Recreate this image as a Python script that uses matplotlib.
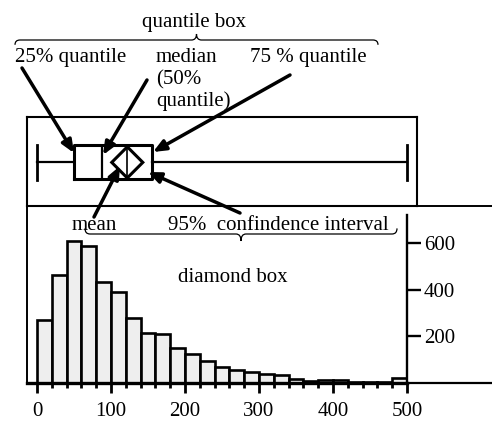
import matplotlib.pyplot as plt
from matplotlib.path import Path
from matplotlib.patches import PathPatch, Polygon
import numpy as np

plt.rcParams['font.family'] = ['Liberation Serif', 'DejaVu Serif']

# histogram counts, bins of width 20 from 0 to 500
bin_edges = np.arange(0, 520, 20)
counts = [272, 463, 609, 588, 434, 389, 280, 216, 209, 149, 123, 96, 70,
          56, 46, 37, 35, 17, 8, 12, 12, 5, 3, 3, 20]

# box plot summary
q1, median, q3 = 50, 88, 155
whis_lo, whis_hi = 0, 500
mean, ci_lo, ci_hi = 122, 101, 143

W, H = 492, 421
fig = plt.figure(figsize=(W / 100, H / 100), dpi=100)

def frac(x0, y0, x1, y1):
    # pixel box (top-left origin) -> figure fraction rect
    return [x0 / W, (H - y1) / H, (x1 - x0) / W, (y1 - y0) / H]

# --- histogram ---
ax = fig.add_axes(frac(27, 207, 407, 383))
ax.bar(bin_edges[:-1], counts, width=20, align='edge', color='#eeeeee',
       edgecolor='black', linewidth=1.9)
ax.set_xlim(-13.5, 500)
ax.set_ylim(0, 754)
ax.spines['top'].set_visible(False)
ax.spines['left'].set_linewidth(1.4)
ax.spines['bottom'].set_linewidth(2.4)
ax.spines['right'].set_linewidth(1.7)
ax.spines['right'].set_bounds(0, 720)
ax.yaxis.tick_right()
ax.set_yticks([200, 400, 600])
ax.set_xticks(range(0, 501, 100))
ax.set_xticks([x for x in bin_edges if x % 100], minor=True)
ax.tick_params(axis='y', direction='out', length=10, width=1.7, pad=2,
               labelsize=15)
ax.tick_params(axis='x', which='major', direction='out', length=7.5,
               width=2.0, pad=6, labelsize=15)
ax.tick_params(axis='x', which='minor', direction='out', length=3.5,
               width=2.0)

# --- outlier box plot ---
bx = fig.add_axes(frac(27, 117, 417, 206))
pos, half = 0.49, 0.19
stats = [dict(med=median, q1=q1, q3=q3, whislo=whis_lo, whishi=whis_hi,
              fliers=[])]
bx.bxp(stats, positions=[pos], widths=2 * half, orientation='horizontal',
       capwidths=0.4,
       boxprops=dict(color='black', linewidth=2.2),
       medianprops=dict(color='black', linewidth=1.6),
       whiskerprops=dict(color='black', linewidth=1.6),
       capprops=dict(color='black', linewidth=2.0))
dh = half - 0.015
bx.add_patch(Polygon([(ci_lo, pos), (mean, pos + dh), (ci_hi, pos),
                      (mean, pos - dh)], closed=True, fill=False,
                     edgecolor='black', linewidth=2.2))
bx.plot([mean, mean], [pos - dh, pos + dh], color='black', lw=1.2)
bx.set_xlim(-13.5, 513.5)
bx.set_ylim(0, 1)
bx.set_xticks([])
bx.set_yticks([])
for s in bx.spines.values():
    s.set_linewidth(1.5)

# --- labels and arrows, in pixel coordinates ---
ov = fig.add_axes([0, 0, 1, 1])
ov.set_xlim(0, W)
ov.set_ylim(H, 0)
ov.axis('off')
ov.patch.set_alpha(0)

ov.plot([417, W], [206, 206], color='black', lw=1.4)
ov.plot([407, W], [383, 383], color='black', lw=1.6)

def brace(x0, x1, y, tip, d=5):
    xm = (x0 + x1) / 2
    e = y - (tip - y) * 0.8
    verts = [(x0, e), (x0, y), (x0 + d, y),
             (xm - d, y), (xm, y), (xm, tip),
             (xm, y), (xm + d, y),
             (x1 - d, y), (x1, y), (x1, e)]
    codes = [Path.MOVETO, Path.CURVE3, Path.CURVE3,
             Path.LINETO, Path.CURVE3, Path.CURVE3,
             Path.CURVE3, Path.CURVE3,
             Path.LINETO, Path.CURVE3, Path.CURVE3]
    ov.add_patch(PathPatch(Path(verts, codes), fill=False,
                           edgecolor='black', lw=0.9))

fs = 15
ov.text(194, 27, 'quantile box', ha='center', va='baseline', fontsize=fs)
brace(15, 378, 40, 34)
ov.text(15, 62, '25% quantile', va='baseline', fontsize=fs)
ov.text(156, 62, 'median', va='baseline', fontsize=fs)
ov.text(156, 84, '(50%', va='baseline', fontsize=fs)
ov.text(156, 106, 'quantile)', va='baseline', fontsize=fs)
ov.text(250, 62, '75 % quantile', va='baseline', fontsize=fs)
ov.text(72, 230, 'mean', va='baseline', fontsize=fs)
ov.text(168, 230, '95%  confindence interval', va='baseline', fontsize=fs)
brace(85, 397, 234, 241)
ov.text(233, 282, 'diamond box', ha='center', va='baseline', fontsize=fs)

arrows = [((22, 68), (74, 153)),
          ((147, 80), (103, 155)),
          ((290, 75), (153, 152)),
          ((94, 217), (120, 166)),
          ((240, 213), (148, 172))]
for start, end in arrows:
    ov.annotate('', xy=end, xytext=start,
                arrowprops=dict(arrowstyle='-|>,head_length=0.75,head_width=0.32',
                                color='black', lw=2.5, shrinkA=0, shrinkB=0))

plt.savefig('out.png', dpi=100)
